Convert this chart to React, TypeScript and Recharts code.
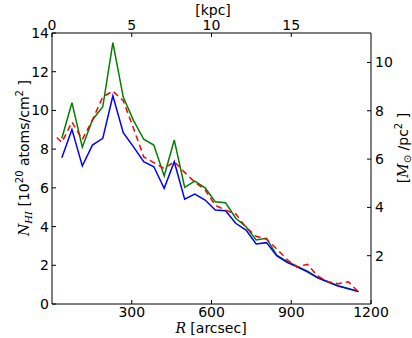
import React from 'react';
import { LineChart, Line, XAxis, YAxis } from 'recharts';

// radius in arcsec, surface densities in 1e20 atoms/cm^2
const radius = [18, 37, 75, 114, 152, 191, 229, 268, 306, 345, 383, 422, 460, 499, 537, 576, 614, 653, 691, 730, 768, 807, 845, 884, 922, 961, 999, 1038, 1076, 1115, 1153];
const green = [null, 8.56, 10.4, 8.1, 9.51, 10.19, 13.5, 10.69, 9.5, 8.51, 8.21, 6.61, 8.47, 6.03, 6.35, 6.0, 5.28, 5.23, 4.43, 3.99, 3.31, 3.39, 2.53, 2.2, 1.95, 1.7, 1.38, 1.15, 0.95, 0.8, 0.65];
const blue = [null, 7.56, 9.02, 7.13, 8.21, 8.56, 10.76, 8.85, 8.13, 7.35, 7.09, 5.98, 7.35, 5.42, 5.68, 5.37, 4.86, 4.82, 4.17, 3.82, 3.1, 3.17, 2.5, 2.15, 1.92, 1.66, 1.35, 1.13, 0.93, 0.78, 0.64];
const red = [8.6, 8.35, 9.4, 8.5, 9.5, 10.7, 11.0, 10.5, 9.1, 7.6, 7.3, 7.0, 7.35, 6.8, 6.3, 5.9, 5.1, 4.85, 4.65, 3.95, 3.5, 3.35, 2.85, 2.3, 1.9, 2.05, 1.45, 1.15, 1.05, 1.15, 0.62];

const arcsecTicks = [300, 600, 900, 1200];
const kpcTicks = [0, 5, 10, 15];
const arcsecPerKpc = 60;
const nTicks = [0, 2, 4, 6, 8, 10, 12, 14];
const massTicks = [2, 4, 6, 8, 10];

const data = radius.map((r, i) => ({ R: r, green: green[i], blue: blue[i], red: red[i] }));

const font = 'DejaVu Sans';
const tickStyle = { fontSize: 14, fill: '#000', fontFamily: font };
const axisLine = { stroke: '#000', strokeWidth: 1 };
const tickLine = { stroke: '#000', strokeWidth: 1 };

export default function App() {
  return (
    <div style={{ position: 'absolute', left: 0, top: 0, width: 412, height: 338, background: '#fff' }}>
      <LineChart width={412} height={338} data={data} margin={{ top: 0, right: 0, bottom: 0, left: 0 }}>
        <XAxis xAxisId="bottom" dataKey="R" type="number" domain={[0, 1200]} ticks={arcsecTicks}
          height={34} tick={tickStyle} axisLine={axisLine} tickLine={tickLine} tickSize={-4} tickMargin={7} />
        <XAxis xAxisId="top" orientation="top" dataKey="R" type="number" domain={[0, 1200]}
          ticks={kpcTicks.map(k => k * arcsecPerKpc)} tickFormatter={(v: number) => String(v / arcsecPerKpc)}
          height={33} tick={tickStyle} axisLine={axisLine} tickLine={tickLine} tickSize={-4} tickMargin={7} />
        <YAxis yAxisId="left" domain={[0, 14]} ticks={nTicks} width={52} tick={tickStyle}
          axisLine={axisLine} tickLine={tickLine} tickSize={-4} tickMargin={7} />
        <YAxis yAxisId="right" orientation="right" domain={[0, 11.22]} ticks={massTicks} allowDataOverflow
          width={41} tick={tickStyle} axisLine={axisLine} tickLine={tickLine} tickSize={-4} tickMargin={8} />
        <Line xAxisId="bottom" yAxisId="left" type="linear" dataKey="green" stroke="#008000" strokeWidth={1.5} dot={false} isAnimationActive={false} />
        <Line xAxisId="bottom" yAxisId="left" type="linear" dataKey="blue" stroke="#0000ff" strokeWidth={1.5} dot={false} isAnimationActive={false} />
        <Line xAxisId="bottom" yAxisId="left" type="linear" dataKey="red" stroke="#ff0000" strokeWidth={1.5} strokeDasharray="6 4" dot={false} isAnimationActive={false} />
        <Line xAxisId="top" yAxisId="right" type="linear" dataKey="blue" stroke="none" dot={false} activeDot={false} legendType="none" isAnimationActive={false} />
      </LineChart>
      <svg width={412} height={338} style={{ position: 'absolute', left: 0, top: 0, pointerEvents: 'none' }}>
        <text x={213} y={15} textAnchor="middle" fontSize={14} fontFamily={font}>[kpc]</text>
        <text x={211} y={333} textAnchor="middle" fontSize={14} fontFamily={font}>
          <tspan fontStyle="italic" fontFamily="DejaVu Serif">R</tspan>
          <tspan> [arcsec]</tspan>
        </text>
        <text transform="translate(29,158) rotate(-90)" textAnchor="middle" fontSize={14} fontFamily={font}>
          <tspan fontStyle="italic" fontFamily="DejaVu Serif">N</tspan>
          <tspan fontStyle="italic" fontFamily="DejaVu Serif" fontSize={10} dy={3}>HI</tspan>
          <tspan dy={-3}> [10</tspan>
          <tspan fontSize={10} dy={-6}>20</tspan>
          <tspan dy={6}> atoms/cm</tspan>
          <tspan fontSize={10} dy={-6}>2</tspan>
          <tspan dy={6}> ]</tspan>
        </text>
        <text transform="translate(408,148) rotate(-90)" textAnchor="middle" fontSize={14} fontFamily={font}>
          <tspan>[</tspan>
          <tspan fontStyle="italic" fontFamily="DejaVu Serif">M</tspan>
          <tspan fontSize={10} dy={3}>⊙</tspan>
          <tspan dy={-3}> /pc</tspan>
          <tspan fontSize={10} dy={-6}>2</tspan>
          <tspan dy={6}> ]</tspan>
        </text>
      </svg>
    </div>
  );
}
